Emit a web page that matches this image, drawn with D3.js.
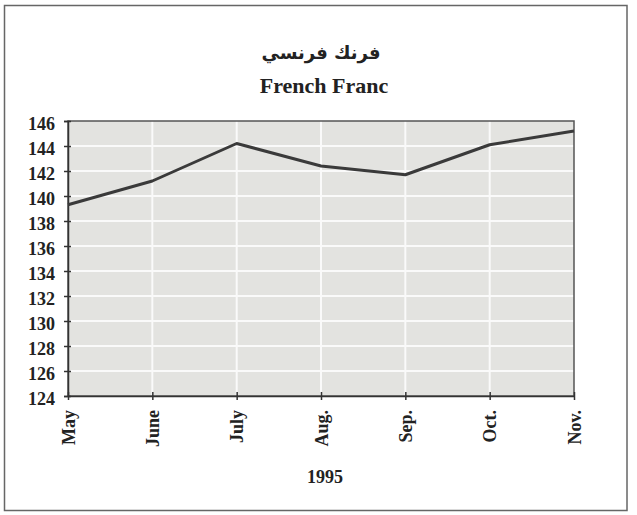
<!DOCTYPE html>
<html><head><meta charset="utf-8">
<script src="https://cdn.jsdelivr.net/npm/d3@7"></script>
<style>body{margin:0;background:#fff}svg{display:block}</style>
</head><body>
<svg id="c" width="637" height="515"></svg>
<script>
const months = ["May","June","July","Aug.","Sep.","Oct.","Nov."];
const values = [139.3,141.2,144.2,142.4,141.7,144.1,145.2];
const yTicks = [124,126,128,130,132,134,136,138,140,142,144,146];
const titleAr = "فرنك فرنسي";
const titleEn = "French Franc";
const xTitle = "1995";

const svg = d3.select("#c");
const F = "'Liberation Serif','Times New Roman',serif";
svg.append("rect").attr("x",4.5).attr("y",5.5).attr("width",622.5).attr("height",505)
  .attr("fill","#fff").attr("stroke","#666").attr("stroke-width",1.5);

const m = {l:68, r:574, t:121, b:396};
const x = d3.scalePoint().domain(months).range([m.l,m.r]);
const y = d3.scaleLinear().domain([124,146]).range([m.b,m.t]);

svg.append("rect").attr("x",m.l).attr("y",m.t).attr("width",m.r-m.l).attr("height",m.b-m.t).attr("fill","#e3e3e0");
svg.append("g").selectAll("line").data(yTicks.slice(1,-1)).join("line")
  .attr("x1",m.l).attr("x2",m.r).attr("y1",d=>y(d)).attr("y2",d=>y(d)).attr("stroke","#fafafa").attr("stroke-width",2);
svg.append("g").selectAll("line").data(months.slice(1,-1)).join("line")
  .attr("x1",d=>x(d)).attr("x2",d=>x(d)).attr("y1",m.t).attr("y2",m.b).attr("stroke","#fafafa").attr("stroke-width",2);
svg.append("rect").attr("x",m.l).attr("y",m.t).attr("width",m.r-m.l).attr("height",m.b-m.t)
  .attr("fill","none").attr("stroke","#555").attr("stroke-width",1.5);

const ya = svg.append("g").attr("transform",`translate(${m.l},0)`)
  .call(d3.axisLeft(y).tickValues(yTicks).tickSize(4).tickPadding(9));
ya.select(".domain").attr("stroke","#333").attr("stroke-width",1.5);
ya.selectAll(".tick line").attr("stroke","#333").attr("stroke-width",1.5).attr("x2",-4).attr("x1",3);
ya.selectAll("text").attr("font-family",F).attr("font-weight","bold").attr("font-size",18).attr("fill","#222").attr("dy","0.45em");

const xa = svg.append("g").attr("transform",`translate(0,${m.b})`)
  .call(d3.axisBottom(x).tickSize(4).tickSizeOuter(0));
xa.select(".domain").attr("stroke","#333").attr("stroke-width",1.5);
xa.selectAll(".tick line").attr("stroke","#333").attr("stroke-width",1.5).attr("y1",-4);
xa.selectAll("text").attr("font-family",F).attr("font-weight","bold").attr("font-size",18).attr("fill","#222")
  .attr("transform","rotate(-90)").attr("text-anchor","end").attr("dy","0.35em").attr("x",-14).attr("y",0);

const line = d3.line().x((d,i)=>x(months[i])).y(d=>y(d));
svg.append("path").datum(values).attr("d",line).attr("fill","none").attr("stroke","#3a3a3a").attr("stroke-width",3).attr("stroke-linejoin","round");

svg.append("text").attr("x",321).attr("y",59).attr("text-anchor","middle").attr("font-family","'DejaVu Sans',sans-serif")
  .attr("font-weight","bold").attr("font-size",18).attr("fill","#222").text(titleAr);
svg.append("text").attr("x",324).attr("y",93).attr("text-anchor","middle").attr("font-family",F)
  .attr("font-weight","bold").attr("font-size",22).attr("fill","#222").text(titleEn);
svg.append("text").attr("x",325).attr("y",483).attr("text-anchor","middle").attr("font-family",F)
  .attr("font-weight","bold").attr("font-size",18).attr("fill","#222").text(xTitle);
</script>
</body></html>
